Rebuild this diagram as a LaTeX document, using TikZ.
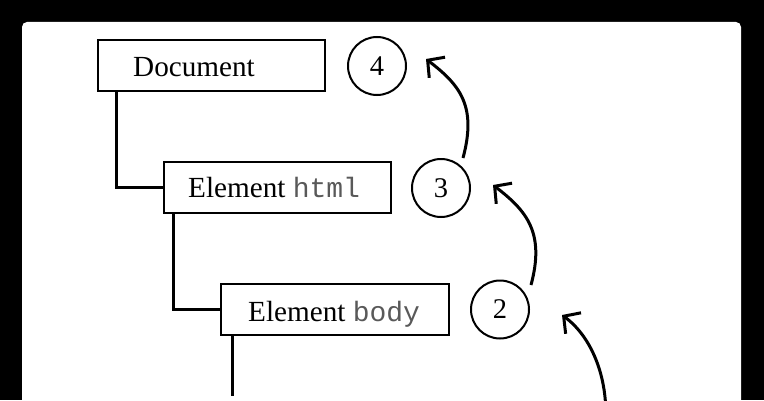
\documentclass[tikz,border=0pt]{standalone}
\usepackage{fontspec}
\setmainfont{Liberation Serif}
\setmonofont{Liberation Mono}
\usetikzlibrary{arrows.meta,calc}
\newcommand{\mytt}[1]{{\fontsize{28bp}{30bp}\selectfont\ttfamily\color{black!65}#1}}
\begin{document}
\begin{tikzpicture}[x=1bp,y=1bp,
  box/.style={draw, line width=2bp, minimum width=227bp, minimum height=51bp, inner sep=0pt},
  num/.style={draw, circle, line width=2bp, minimum size=58bp, inner sep=0pt, font=\fontsize{28.5bp}{30bp}\selectfont},
  lbl/.style={anchor=base west, inner sep=0pt, font=\fontsize{29.2bp}{31bp}\selectfont},
  conn/.style={line width=3bp},
  flow/.style={line width=3bp, -{Straight Barb[length=12bp,width=26bp]}}]
\useasboundingbox (0,0) rectangle (764,400);
\fill[black] (0,0) rectangle (764,400);
\fill[white, rounded corners=5bp] (22,-20) rectangle (741,378);
% boxes
\node[box] (doc) at (211.5,334.5) {};
\node[box] (html) at (277.5,212.5) {};
\node[box, minimum width=228bp] (body) at (335,90.5) {};
\node[lbl] (tdoc) at (133,324) {Document};
\node[lbl] (thtml) at (188,203) {Element \mytt{html}};
\node[lbl] (tbody) at (248,79) {Element \mytt{body}};
% circles
\node[num] (c4) at (377,334) {4};
\node[num] (c3) at (441,212) {3};
\node[num] (c2) at (500,90.5) {2};
% tree connectors
\draw[conn] ($(doc.south west)+(19,0)$) |- (html.west);
\draw[conn] ($(html.south west)+(10,0)$) |- (body.west);
\coordinate (down) at ($(body.south west)+(12,-60)$);
\draw[conn] ($(body.south west)+(12,0)$) -- (down);
% flow arrows
\coordinate (s3) at ($(c3)+(22,30)$);
\coordinate (t4) at ($(c4)+(49,7)$);
\draw[flow] (s3) .. controls +(14,52) and +(34,-26) .. (t4);
\coordinate (s2) at ($(c2)+(31,24.5)$);
\coordinate (t3) at ($(c3)+(52,3)$);
\draw[flow] (s2) .. controls +(14,52) and +(34,-26) .. (t3);
\coordinate (s1) at (605,-30);
\coordinate (t2) at ($(c2)+(62,-5.5)$);
\draw[flow] (s1) .. controls +(5,50) and +(30,-22) .. (t2);
\end{tikzpicture}
\end{document}
